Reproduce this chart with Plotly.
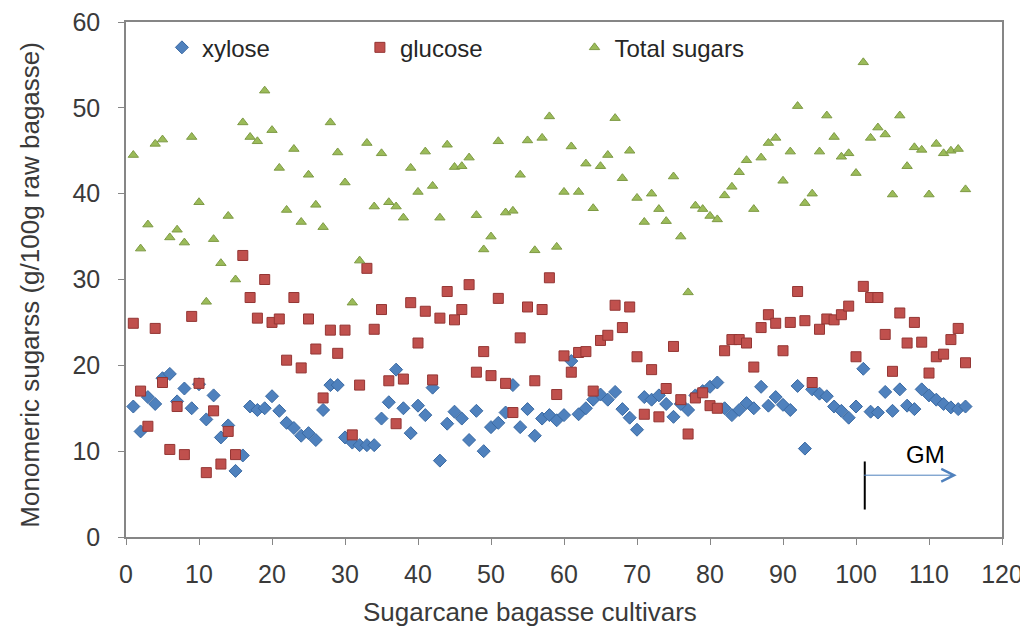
import plotly.graph_objects as go

cultivar = list(range(1, 116))

xylose = [
    15.2, 12.3, 16.3, 15.5, 18.5, 19.0, 15.8, 17.3, 15.0, 17.8,
    13.7, 16.5, 11.6, 13.0, 7.7, 9.5, 15.2, 14.8, 15.0, 16.4,
    14.7, 13.3, 12.7, 11.8, 12.1, 11.3, 14.8, 17.7, 17.7, 11.6,
    11.0, 10.7, 10.7, 10.7, 13.8, 15.7, 19.5, 15.0, 12.1, 15.3,
    14.2, 17.4, 8.9, 13.2, 14.6, 13.8, 11.3, 14.7, 10.0, 12.8,
    13.3, 14.5, 17.7, 12.8, 14.9, 11.8, 13.8, 14.2, 13.6, 14.2,
    20.5, 14.3, 15.0, 16.0, 16.6, 16.0, 16.9, 14.9, 13.9, 12.5,
    16.3, 16.0, 16.5, 15.5, 14.0, 15.5, 14.8, 16.5, 17.0, 17.5,
    18.0, 15.0, 14.2, 14.8, 15.6, 15.0, 17.5, 15.3, 16.3, 15.4,
    14.8, 17.6, 10.3, 17.2, 16.7, 16.4, 15.2, 14.7, 13.9, 15.2,
    19.6, 14.6, 14.5, 16.9, 14.7, 17.2, 15.3, 14.9, 17.2, 16.5,
    16.0, 15.5, 15.1, 14.9, 15.2,
]

glucose = [
    24.9, 17.0, 12.9, 24.3, 18.0, 10.2, 15.2, 9.6, 25.7, 17.9,
    7.5, 14.7, 8.5, 12.3, 9.6, 32.8, 27.9, 25.5, 30.0, 25.0,
    25.4, 20.6, 27.9, 19.7, 25.4, 21.9, 16.2, 24.1, 21.4, 24.1,
    11.9, 17.7, 31.3, 24.2, 26.5, 18.2, 13.2, 18.4, 27.3, 22.6,
    26.3, 18.3, 25.5, 28.6, 25.3, 26.5, 29.4, 19.2, 21.6, 18.8,
    27.8, 17.9, 14.5, 23.2, 26.8, 18.2, 26.5, 30.2, 16.6, 21.1,
    19.2, 21.5, 21.6, 17.0, 22.9, 23.5, 27.0, 24.4, 26.8, 21.0,
    14.3, 19.5, 14.0, 17.3, 22.2, 16.0, 12.0, 16.2, 16.8, 15.3,
    15.0, 21.7, 23.0, 23.0, 22.6, 19.8, 24.4, 25.9, 24.9, 21.7,
    25.0, 28.6, 25.2, 18.0, 24.2, 25.4, 25.3, 25.9, 26.9, 21.0,
    29.2, 27.9, 27.9, 23.6, 19.3, 26.1, 22.6, 25.0, 22.7, 19.1,
    21.0, 21.3, 23.0, 24.3, 20.3,
]

total_sugars = [
    44.5, 33.6, 36.4, 45.8, 46.3, 34.9, 35.8, 34.3, 46.6, 39.0,
    27.4, 34.7, 31.9, 37.4, 30.0, 48.3, 46.6, 46.1, 52.0, 47.4,
    43.0, 38.1, 45.2, 36.7, 42.2, 38.7, 36.1, 48.3, 44.8, 41.3,
    27.3, 32.2, 45.9, 38.5, 44.7, 39.0, 38.5, 37.2, 43.0, 40.2,
    44.9, 40.9, 37.2, 45.7, 43.1, 43.2, 44.2, 37.5, 33.5, 35.0,
    46.1, 37.8, 38.0, 42.2, 46.2, 33.4, 46.5, 49.0, 33.8, 40.2,
    45.5, 40.2, 43.5, 38.3, 43.2, 44.5, 48.8, 41.8, 45.0, 39.5,
    36.7, 40.0, 38.2, 36.8, 42.0, 35.0, 28.5, 38.6, 38.2, 37.4,
    37.0, 39.8, 40.8, 42.5, 43.9, 38.2, 44.2, 45.9, 46.5, 41.5,
    44.9, 50.2, 38.9, 40.0, 44.9, 49.1, 46.6, 44.3, 44.7, 42.4,
    55.3, 46.5, 47.7, 46.9, 39.9, 49.1, 43.2, 45.4, 45.1, 39.9,
    45.8, 44.7, 45.0, 45.2, 40.5,
]

x_ticks = [0, 10, 20, 30, 40, 50, 60, 70, 80, 90, 100, 110, 120]
y_ticks = [0, 10, 20, 30, 40, 50, 60]

FONT = "Liberation Sans, Arial, sans-serif"
TXT = "#3a3a3a"
LEG_FONT = dict(family=FONT, size=24, color="#262626")

fig = go.Figure()
fig.add_trace(go.Scatter(
    x=cultivar, y=xylose, mode="markers", name="xylose", legend="legend",
    marker=dict(symbol="diamond", size=10, color="#4F81BD",
                line=dict(color="#3A6AA3", width=1)),
))
fig.add_trace(go.Scatter(
    x=cultivar, y=glucose, mode="markers", name="glucose", legend="legend2",
    marker=dict(symbol="square", size=10, color="#C0504D",
                line=dict(color="#943634", width=1)),
))
fig.add_trace(go.Scatter(
    x=cultivar, y=total_sugars, mode="markers", name="Total sugars", legend="legend3",
    marker=dict(symbol="triangle-up", size=9, color="#9BBB59",
                line=dict(color="#7E9A45", width=1)),
))

# GM marker: vertical black line and arrow
fig.add_shape(type="line", xref="x", yref="y", x0=101.2, x1=101.2, y0=3.2, y1=8.8,
              line=dict(color="black", width=2))
fig.add_annotation(x=113.8, y=7.2, ax=100.9, ay=7.2, xref="x", yref="y",
                   axref="x", ayref="y", text="", showarrow=True,
                   arrowhead=5, arrowsize=2.5, arrowwidth=1, arrowcolor="#4F81BD")
fig.add_annotation(x=109.5, y=9.6, xref="x", yref="y", text="GM", showarrow=False,
                   font=dict(family=FONT, size=24, color="black"))

# axis titles
fig.add_annotation(x=0.461, y=-0.146, xref="paper", yref="paper",
                   xanchor="center", yanchor="middle",
                   text="Sugarcane bagasse cultivars", showarrow=False,
                   font=dict(family=FONT, size=26, color=TXT))
fig.add_annotation(x=-0.1096, y=0.49, xref="paper", yref="paper", textangle=-90,
                   xanchor="center", yanchor="middle",
                   text="Monomeric sugarss (g/100g raw bagasse)", showarrow=False,
                   font=dict(family=FONT, size=26, color=TXT))

leg_common = dict(orientation="h", yanchor="middle", y=0.95, xanchor="left",
                  font=LEG_FONT, bgcolor="rgba(255,255,255,0)", borderwidth=0)

fig.update_layout(
    width=1028, height=632,
    margin=dict(l=118, r=34, t=14, b=103, autoexpand=False),
    paper_bgcolor="white", plot_bgcolor="white",
    font=dict(family=FONT, size=24, color=TXT),
    showlegend=True,
    legend=dict(x=0.041, **leg_common),
    legend2=dict(x=0.267, **leg_common),
    legend3=dict(x=0.512, **leg_common),
    xaxis=dict(range=[0, 120], tickvals=x_ticks, showgrid=False, zeroline=False,
               showline=True, linecolor="#868686", linewidth=1.5, mirror=True,
               ticks="outside", ticklen=6, tickcolor="#868686",
               ticklabelstandoff=8, ticklabeloverflow="allow",
               tickfont=dict(family=FONT, size=25, color=TXT)),
    yaxis=dict(range=[0, 60], tickvals=y_ticks, showgrid=False, zeroline=False,
               showline=True, linecolor="#868686", linewidth=1.5, mirror=True,
               ticks="outside", ticklen=6, tickcolor="#868686",
               ticklabelstandoff=13, ticklabeloverflow="allow",
               tickfont=dict(family=FONT, size=25, color=TXT)),
)

fig.write_html("out.html")
